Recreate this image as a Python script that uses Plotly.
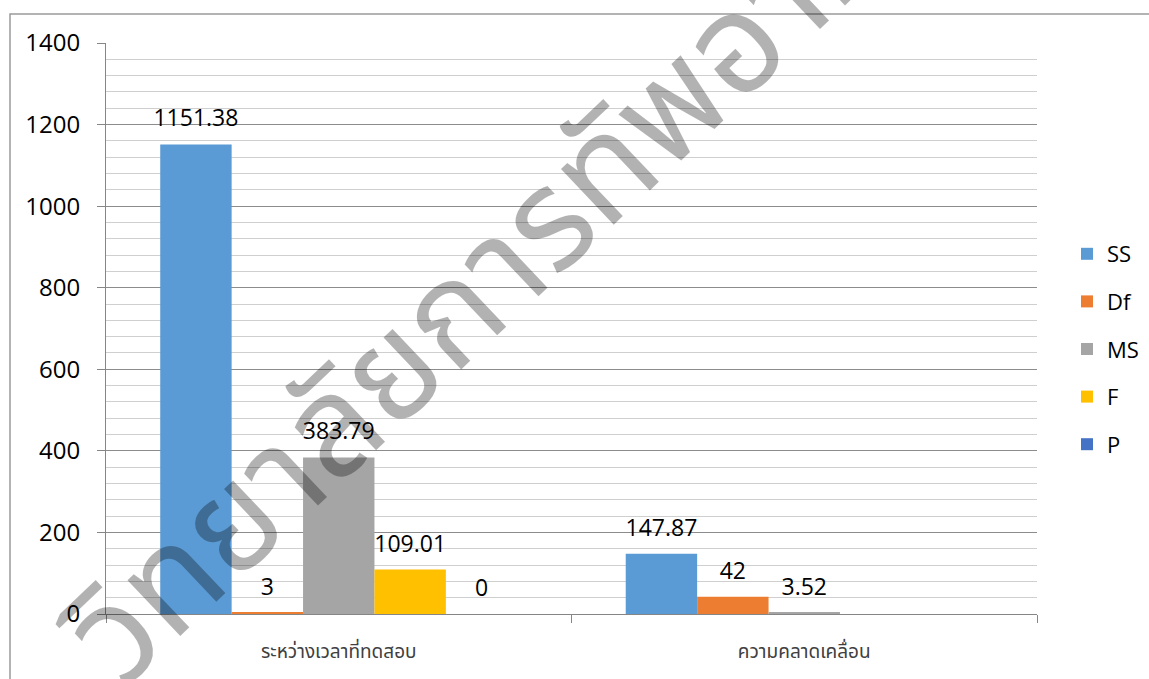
import plotly.graph_objects as go

# ANOVA summary values per source of variation
categories = ["ระหว่างเวลาที่ทดสอบ", "ความคลาดเคลื่อน"]
series_names = ["SS", "Df", "MS", "F", "P"]
ss_values = [1151.38, 147.87]
df_values = [3, 42]
ms_values = [383.79, 3.52]
f_values = [109.01, None]
p_values = [0, None]
y_ticks = [0, 200, 400, 600, 800, 1000, 1200, 1400]
watermark_text = "วิทยาลัยการทัพอากาศ"

series_values = [ss_values, df_values, ms_values, f_values, p_values]
colors = ["#5B9BD5", "#ED7D31", "#A5A5A5", "#FFC000", "#4472C4"]

W, H = 1149, 679
ML, MR, MT, MB = 106, 112, 43, 65
plot_w = W - ML - MR
plot_h = H - MT - MB

LABEL_FONT = "Open Sans, Lato, sans-serif"
THAI_FONT = "Noto Sans Thai, Tahoma, Loma, sans-serif"

fig = go.Figure()

for name, vals, col in zip(series_names, series_values, colors):
    fig.add_trace(go.Bar(
        name=name, x=categories, y=vals,
        marker=dict(color=col, line=dict(width=0)),
        legendgroup=name, hoverinfo="skip",
    ))

# value labels, grouped the same way as the bars
for name, vals in zip(series_names, series_values):
    fig.add_trace(go.Scatter(
        x=categories, y=vals, mode="markers+text",
        text=[None if v is None else f"{v:g}" for v in vals],
        textposition="top center",
        textfont=dict(family=LABEL_FONT, size=23, color="#000000"),
        marker=dict(size=18, opacity=0),
        showlegend=False, hoverinfo="skip", cliponaxis=False,
    ))

def px_x(px):
    return (px - ML) / plot_w

def px_y(py):
    return (H - MB - py) / plot_h

fig.update_layout(
    width=W, height=H,
    margin=dict(l=ML, r=MR, t=MT, b=MB, autoexpand=False),
    paper_bgcolor="white", plot_bgcolor="white",
    barmode="group", bargap=0.233, bargroupgap=0,
    scattermode="group", scattergap=0.233,
    font=dict(family=LABEL_FONT, color="#000000"),
    showlegend=True,
    legend=dict(
        x=px_x(1067), y=px_y(233), xanchor="left", yanchor="top",
        font=dict(family=LABEL_FONT, size=22, color="#000000"),
        traceorder="grouped", tracegroupgap=16,
        bgcolor="rgba(0,0,0,0)", itemwidth=30,
    ),
    xaxis=dict(
        type="category", showgrid=False,
        showline=True, linecolor="#868686", linewidth=1,
        ticks="outside", tickson="boundaries", ticklen=8, tickcolor="#868686",
        tickfont=dict(family=THAI_FONT, size=19, color="#404040"),
        ticklabelstandoff=20,
    ),
    yaxis=dict(
        range=[0, 1400], tickvals=y_ticks, ticktext=[str(t) for t in y_ticks],
        showgrid=True, gridcolor="#8c8c8c", gridwidth=1,
        minor=dict(dtick=40, showgrid=True, gridcolor="#cfcfcf", gridwidth=1),
        showline=True, linecolor="#868686", linewidth=1,
        ticks="outside", ticklen=8, tickcolor="#868686",
        tickfont=dict(family=LABEL_FONT, size=24, color="#000000"),
        ticklabelstandoff=12, zeroline=False,
    ),
)

# chart frame
fig.add_shape(type="rect", xref="paper", yref="paper",
              x0=px_x(10), y0=px_y(H + 20), x1=px_x(W + 20), y1=px_y(14),
              line=dict(color="#9a9a9a", width=1.5), layer="below")

# diagonal watermark
fig.add_annotation(
    text=watermark_text, xref="paper", yref="paper",
    x=px_x(532), y=px_y(243), xanchor="center", yanchor="middle",
    textangle=-43.5, showarrow=False,
    font=dict(family=THAI_FONT, size=140, color="rgba(0,0,0,0.3)"),
)

fig.write_html("out.html")
